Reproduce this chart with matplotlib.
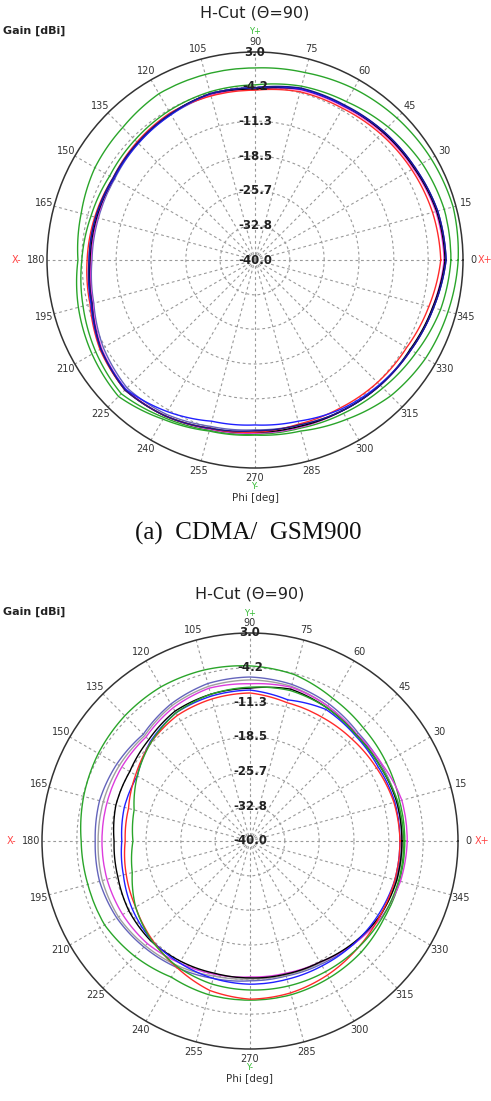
import numpy as np
import matplotlib.pyplot as plt

W, H = 491, 1101
R_PX = 208

phi_deg = [0, 15, 30, 45, 60, 75, 90, 105, 120, 135, 150, 165,
           180, 195, 210, 225, 240, 255, 270, 285, 300, 315, 330, 345]
r_ticks = [-40.0, -32.8, -25.7, -18.5, -11.3, -4.2, 3.0]
theta_labels = [str(d) for d in phi_deg]

# (a) CDMA / GSM900  -- gain in dBi at each phi
a_green1 = [2.0, 2.4, 2.0, 1.5, 0.9, 0.1, -0.3, -0.3, -0.3, -1.3, -1.8, -2.8,
            -3.4, -2.2, -1.1, -0.1, -2.0, -3.4, -3.8, -3.4, -2.0, -0.3, 0.7, 1.3]
a_green2 = [0.5, 0.5, -0.1, -1.1, -2.2, -2.8, -3.8, -4.0, -4.4, -4.9, -5.3, -4.9,
            -4.2, -3.2, -2.0, -0.9, -2.4, -3.6, -4.0, -4.0, -3.4, -2.6, -1.6, -0.3]
a_slate = [-0.7, -1.1, -2.0, -2.6, -3.2, -3.4, -4.4, -4.7, -5.3, -5.9, -6.5, -6.5,
           -6.3, -5.5, -3.8, -2.6, -3.2, -4.4, -4.9, -4.7, -4.0, -3.4, -2.8, -1.8]
a_magenta = [-0.9, -1.3, -2.2, -2.8, -3.4, -3.6, -4.7, -4.7, -5.1, -5.7, -6.3, -6.3,
             -6.1, -5.3, -3.4, -2.2, -2.8, -3.8, -4.2, -4.2, -4.0, -3.4, -2.8, -2.0]
a_black = [-0.7, -1.1, -2.0, -2.6, -3.2, -3.4, -4.7, -4.4, -5.1, -5.7, -6.3, -6.1,
           -5.9, -5.1, -3.2, -2.0, -2.8, -4.0, -4.4, -4.4, -4.0, -3.4, -3.0, -2.0]
a_navy = [-0.5, -0.9, -1.8, -2.4, -3.0, -3.2, -4.4, -4.4, -5.1, -5.7, -6.1, -5.9,
          -5.7, -5.1, -3.2, -2.0, -2.8, -4.0, -4.7, -4.7, -4.0, -3.4, -2.8, -1.8]
a_blue = [-0.5, -0.9, -1.8, -2.4, -3.2, -3.4, -4.4, -4.4, -5.3, -5.9, -6.3, -5.9,
          -5.7, -4.9, -3.2, -2.2, -3.8, -5.5, -5.9, -5.5, -4.4, -3.6, -2.8, -1.8]
a_red = [-1.6, -2.0, -2.6, -3.2, -3.8, -4.0, -4.9, -4.9, -4.9, -5.5, -6.1, -5.7,
         -5.3, -4.7, -3.0, -2.0, -2.8, -4.0, -4.4, -4.9, -4.7, -4.2, -3.8, -2.8]

# (b) second band
b_green1 = [-8.0, -8.0, -7.5, -6.9, -5.9, -4.4, -3.8, -3.4, -3.2, -3.4, -3.8, -4.4,
            -5.1, -5.3, -5.3, -6.3, -7.5, -7.1, -7.1, -7.1, -7.3, -7.5, -8.0, -8.0]
b_slate = [-8.6, -8.6, -8.6, -8.4, -7.3, -6.5, -6.1, -6.3, -7.3, -8.8, -8.2, -7.8,
           -8.0, -7.8, -8.2, -9.0, -9.8, -10.6, -11.1, -11.1, -10.6, -9.8, -9.0, -8.8]
b_gray = [-8.4, -8.4, -8.8, -8.8, -7.8, -6.9, -6.7, -6.9, -7.7, -9.2, -8.8, -8.6,
          -8.6, -8.4, -8.6, -9.4, -10.2, -11.1, -11.5, -11.3, -10.9, -10.0, -9.0, -8.6]
b_magenta = [-7.5, -7.5, -8.4, -8.8, -7.8, -7.1, -7.5, -7.3, -8.2, -9.6, -9.4, -9.4,
             -9.4, -9.4, -9.6, -10.0, -10.9, -11.5, -11.9, -11.7, -11.1, -9.8, -8.6, -7.8]
b_black = [-8.6, -8.6, -9.0, -9.0, -8.2, -7.5, -8.4, -8.6, -9.0, -10.4, -11.3, -11.3,
           -11.9, -11.7, -11.1, -10.9, -11.3, -11.7, -11.7, -11.5, -11.1, -10.0, -9.0, -8.6]
b_blue = [-9.0, -9.0, -9.4, -9.2, -8.6, -9.8, -8.8, -9.0, -9.4, -10.9, -13.1, -13.1,
          -13.5, -12.9, -11.9, -11.1, -10.9, -10.6, -10.4, -10.4, -10.2, -9.8, -9.4, -9.0]
b_red = [-9.0, -9.2, -9.8, -10.2, -10.4, -10.4, -9.4, -9.6, -10.0, -11.1, -12.7, -14.0,
         -14.2, -13.5, -12.7, -11.3, -9.8, -8.0, -7.3, -7.5, -8.0, -8.6, -9.0, -9.0]
b_green2 = [-8.2, -8.4, -9.0, -9.0, -8.2, -7.8, -8.2, -8.6, -9.4, -11.1, -13.1, -15.2,
            -15.8, -14.8, -12.7, -11.1, -10.0, -9.4, -9.2, -9.0, -8.8, -8.6, -8.4, -8.2]

GREEN = "#2aa52a"
SLATE = "#6464bc"
MAGENTA = "#dd3cdd"
NAVY = "#1a1a8c"
BLUE = "#2020ff"
RED = "#ff2a2a"
GRAY = "#a0a0a0"

curves_a = [(a_green1, GREEN), (a_green2, GREEN), (a_slate, SLATE), (a_magenta, MAGENTA),
            (a_black, "black"), (a_red, RED), (a_blue, BLUE), (a_navy, NAVY)]
curves_b = [(b_green1, GREEN), (b_slate, SLATE), (b_gray, GRAY), (b_magenta, MAGENTA),
            (b_black, "black"), (b_blue, BLUE), (b_red, RED), (b_green2, GREEN)]

fig = plt.figure(figsize=(W / 100, H / 100), dpi=100)


def fx(x):
    return x / W


def fy(y):
    return 1 - y / H


def panel(cx, cy, curves):
    rect = [fx(cx - R_PX), fy(cy + R_PX), 2 * R_PX / W, 2 * R_PX / H]
    ax = fig.add_axes(rect, projection="polar")
    ax.set_ylim(-40, 3)
    ax.set_yticks(r_ticks[1:-1])
    ax.set_yticklabels([])
    ax.set_xticks(np.deg2rad(phi_deg))
    ax.set_xticklabels(theta_labels, fontsize=7, color="#333333")
    ax.tick_params(axis="x", pad=-3)
    ax.grid(True, color="#9a9a9a", linestyle=(0, (2.5, 2.5)), linewidth=0.8)
    ax.spines["polar"].set_color("#333333")
    ax.spines["polar"].set_linewidth(1.1)

    th = np.deg2rad(phi_deg + [360])
    for vals, c in curves:
        ln, = ax.plot(th, vals + vals[:1], color=c, linewidth=1.0)
        # let the polar transform draw each segment as an arc-like curve
        ln.get_path()._interpolation_steps = 30

    for rv in r_ticks:
        ax.text(np.pi / 2, rv, f"{rv:.1f}", ha="center", va="center",
                fontsize=8.5, fontweight="bold", color="#222222")

    # surrounding texts
    fig.text(fx(cx), fy(cy - 247), "H-Cut (\u0398=90)", ha="center", va="center",
             fontsize=11.5, color="#222222")
    fig.text(fx(3), fy(cy - 229), "Gain [dBi]", ha="left", va="center",
             fontsize=8, fontweight="bold", color="#222222")
    fig.text(fx(cx), fy(cy - 228), "Y+", ha="center", va="center",
             fontsize=6, color="#33bb33")
    fig.text(fx(cx), fy(cy + 226), "Y-", ha="center", va="center",
             fontsize=6, color="#33bb33")
    fig.text(fx(cx), fy(cy + 238), "Phi [deg]", ha="center", va="center",
             fontsize=7.5, color="#333333")
    fig.text(fx(cx - 238), fy(cy), "X-", ha="center", va="center",
             fontsize=7, color="#ff4444")
    fig.text(fx(min(cx + 232, W - 6)), fy(cy), "X+", ha="center", va="center",
             fontsize=7, color="#ff4444")
    return ax


panel(255, 260, curves_a)
panel(250, 841, curves_b)

fig.text(fx(248), fy(533), "(a)  CDMA/  GSM900", ha="center", va="center",
         fontsize=18, family="Liberation Serif", color="#111111")

fig.savefig("out.png", dpi=100)
